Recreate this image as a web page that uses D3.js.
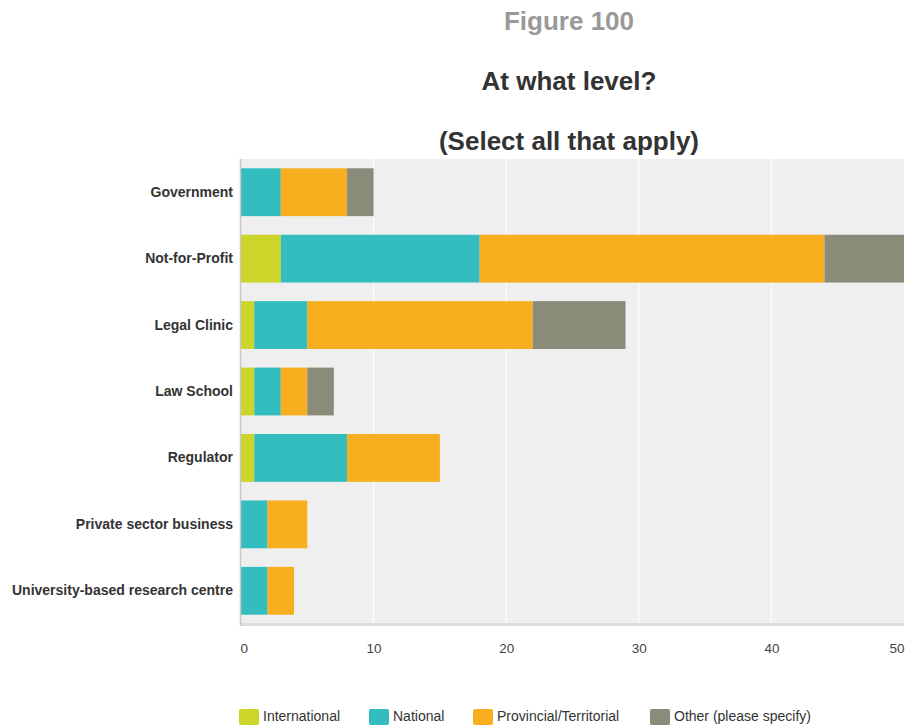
<!DOCTYPE html>
<html><head><meta charset="utf-8">
<script src="https://cdn.jsdelivr.net/npm/d3@7"></script>
<style>body{margin:0;background:#fff;overflow:hidden}svg{display:block;font-family:"Liberation Sans",Arial,sans-serif}</style>
</head><body>
<script>
const categories = ["Government","Not-for-Profit","Legal Clinic","Law School","Regulator","Private sector business","University-based research centre"];
const seriesNames = ["International","National","Provincial/Territorial","Other (please specify)"];
const international = [0,3,1,1,1,0,0];
const national = [3,15,4,2,7,2,2];
const provincial = [5,26,17,2,7,3,2];
const other = [2,6,7,2,0,0,0];
const colors = ["#cdd42a","#33bdbf","#f7af1f","#8a8b79"];
const xTicks = [0,10,20,30,40,50];

(function(){
const W=908,H=727;
const svg=d3.select("body").append("svg").attr("width",W).attr("height",H);
const pL=241, pR=904, pT=159, pB=624;
const x=d3.scaleLinear().domain([0,50]).range([pL,pR]);
const y=d3.scaleBand().domain(categories).range([pT,pB]).paddingInner(0.28).paddingOuter(0.14);

svg.append("defs").append("clipPath").attr("id","clip").append("rect").attr("x",pL).attr("y",pT).attr("width",pR-pL).attr("height",pB-pT);
svg.append("rect").attr("x",pL).attr("y",pT).attr("width",pR-pL).attr("height",pB-pT).attr("fill","#efefef");
svg.append("g").selectAll("line").data(xTicks.slice(1,-1)).join("line")
 .attr("x1",d=>x(d)).attr("x2",d=>x(d)).attr("y1",pT).attr("y2",pB).attr("stroke","#fff").attr("stroke-width",1);

const series=[international,national,provincial,other];
const rows=categories.map((c,i)=>{const o={cat:c};seriesNames.forEach((s,j)=>o[s]=series[j][i]);return o;});
const stacked=d3.stack().keys(seriesNames)(rows);
svg.append("g").attr("clip-path","url(#clip)").selectAll("g").data(stacked).join("g").attr("fill",(d,i)=>colors[i])
 .selectAll("rect").data(d=>d).join("rect")
 .attr("x",d=>x(d[0])).attr("width",d=>x(d[1])-x(d[0])).attr("y",d=>y(d.data.cat)).attr("height",y.bandwidth());

svg.append("line").attr("x1",pL-0.5).attr("x2",pL-0.5).attr("y1",pT).attr("y2",pB+2).attr("stroke","#c8c8c8").attr("stroke-width",1.5);
svg.append("rect").attr("x",pL).attr("y",pB-1).attr("width",pR-pL).attr("height",3).attr("fill","#dcdcdc");

const xa=svg.append("g").attr("transform",`translate(0,${pB})`).call(d3.axisBottom(x).tickValues(xTicks).tickSize(0).tickPadding(19));
xa.select(".domain").remove();
xa.selectAll("text").attr("font-size",13.5).attr("fill","#444").attr("font-family","'Liberation Sans',Arial,sans-serif")
 .attr("text-anchor",d=>d===50?"end":(d===0?"start":"middle")).attr("dx",d=>d===0?-1:0);

const ya=svg.append("g").attr("transform",`translate(${pL},0)`).call(d3.axisLeft(y).tickSize(0).tickPadding(8));
ya.select(".domain").remove();
ya.selectAll("text").attr("font-size",14).attr("font-weight","bold").attr("fill","#333").attr("font-family","'Liberation Sans',Arial,sans-serif");

svg.append("text").attr("x",569).attr("y",30).attr("text-anchor","middle").attr("font-size",26).attr("font-weight","bold").attr("fill","#999").text("Figure 100");
svg.append("text").attr("x",569).attr("y",90).attr("text-anchor","middle").attr("font-size",26).attr("font-weight","bold").attr("fill","#333").text("At what level?");
svg.append("text").attr("x",569).attr("y",150).attr("text-anchor","middle").attr("font-size",26).attr("font-weight","bold").attr("fill","#333").text("(Select all that apply)");

const legX=[239,369,473,650];
const lg=svg.append("g").selectAll("g").data(seriesNames).join("g").attr("transform",(d,i)=>`translate(${legX[i]},709)`);
lg.append("rect").attr("width",20).attr("height",16).attr("rx",2).attr("fill",(d,i)=>colors[i]);
lg.append("text").attr("x",24).attr("y",12).attr("font-size",14).attr("fill","#333").text(d=>d);
})();
</script>
</body></html>
